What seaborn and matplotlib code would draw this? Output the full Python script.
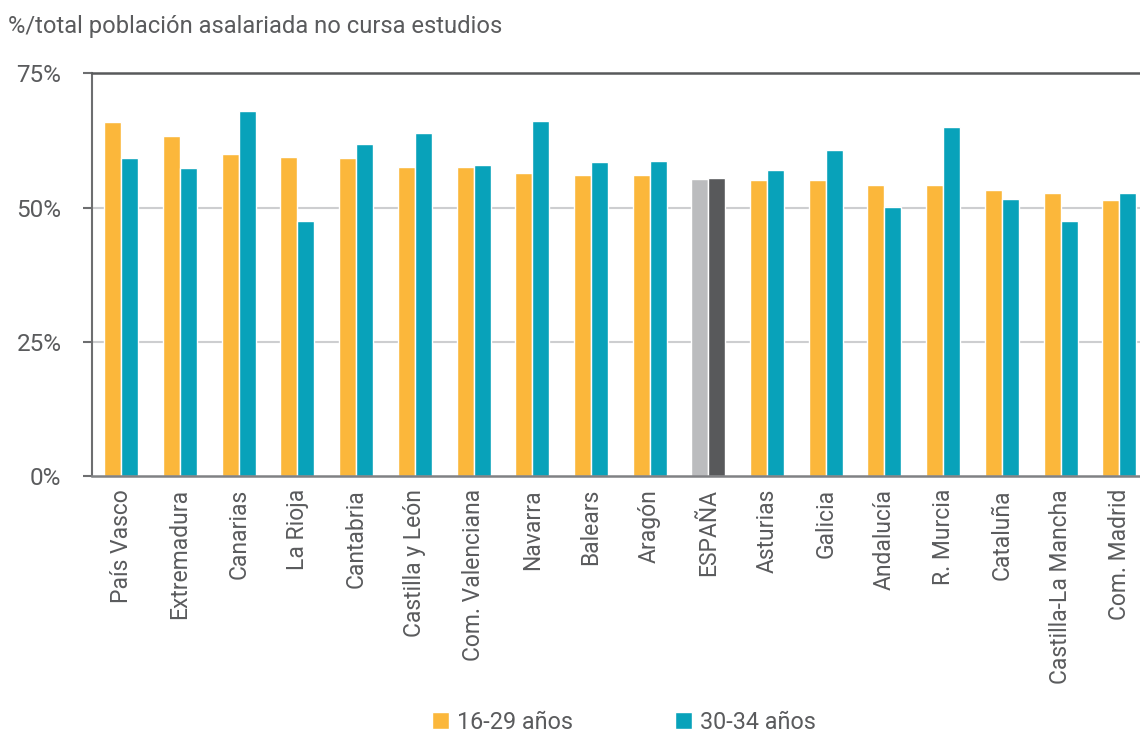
import matplotlib
matplotlib.use("Agg")
import matplotlib.pyplot as plt
import pandas as pd
import seaborn as sns

regions = ["País Vasco", "Extremadura", "Canarias", "La Rioja", "Cantabria",
           "Castilla y León", "Com. Valenciana", "Navarra", "Balears", "Aragón",
           "ESPAÑA", "Asturias", "Galicia", "Andalucía", "R. Murcia", "Cataluña",
           "Castilla-La Mancha", "Com. Madrid"]
young = [65.9, 63.3, 59.9, 59.4, 59.2, 57.5, 57.5, 56.4, 56.0, 56.0,
         55.3, 55.1, 55.1, 54.2, 54.2, 53.2, 52.7, 51.5]
older = [59.2, 57.3, 68.0, 47.6, 61.8, 63.9, 57.9, 66.1, 58.5, 58.6,
         55.5, 57.0, 60.7, 50.2, 65.0, 51.7, 47.6, 52.7]
groups = ["16-29 años", "30-34 años"]
yticks = [0, 25, 50, 75]

ORANGE = "#FBB73B"
TEAL = "#08A2BA"
GREY_TXT = "#5A5B5D"

df = pd.DataFrame({
    "region": regions * 2,
    "valor": young + older,
    "grupo": [groups[0]] * len(regions) + [groups[1]] * len(regions),
})

sns.set_style("white")
plt.rcParams["font.family"] = ["Roboto", "DejaVu Sans"]

fig = plt.figure(figsize=(11.4, 7.34), dpi=100)
ax = fig.add_axes([92 / 1140, 1 - 476.5 / 734, 1056.6 / 1140, (476.5 - 73.3) / 734])

sns.barplot(data=df, x="region", y="valor", hue="grupo", order=regions,
            hue_order=groups, palette=[ORANGE, TEAL], width=0.58, gap=0,
            saturation=1, ax=ax)

# ESPAÑA in grey tones
i_es = regions.index("ESPAÑA")
ax.containers[0][i_es].set_facecolor("#BBBCBE")
ax.containers[1][i_es].set_facecolor("#58595B")

ax.set_xlim(-0.5, len(regions) - 0.5)
ax.set_ylim(0, 75)
ax.set_yticks(yticks)
ax.set_yticklabels([f"{t}%" for t in yticks])
ax.set_xlabel("")
ax.set_ylabel("")

for t in [25, 50]:
    ax.axhline(t, color="#CDCED0", lw=1.5, zorder=0)

ax.spines["right"].set_visible(False)
ax.spines["top"].set_color("#58595B")
ax.spines["top"].set_linewidth(1.8)
ax.spines["left"].set_color("#6D6E70")
ax.spines["left"].set_linewidth(1.5)
ax.spines["bottom"].set_color("#808184")
ax.spines["bottom"].set_linewidth(1.8)

ax.tick_params(axis="y", length=6.5, width=1.5, color="#6D6E70", pad=15.5,
               labelsize=17.5, labelcolor=GREY_TXT, left=True)
ax.tick_params(axis="x", length=0, pad=9, labelsize=16.5, labelcolor=GREY_TXT,
               rotation=90)

handles, labels = ax.get_legend_handles_labels()
ax.get_legend().remove()
fig.legend(handles, labels, loc="lower center", bbox_to_anchor=(624 / 1140, -0.028),
           ncol=2, frameon=False, fontsize=16.8, labelcolor=GREY_TXT,
           handlelength=0.7, handleheight=0.7, handletextpad=0.35,
           columnspacing=4.4)

fig.text(8 / 1140, 1 - 33 / 734, "%/total población asalariada no cursa estudios",
         fontsize=17.1, color=GREY_TXT, va="baseline", ha="left")

fig.savefig("out.png", dpi=100)
